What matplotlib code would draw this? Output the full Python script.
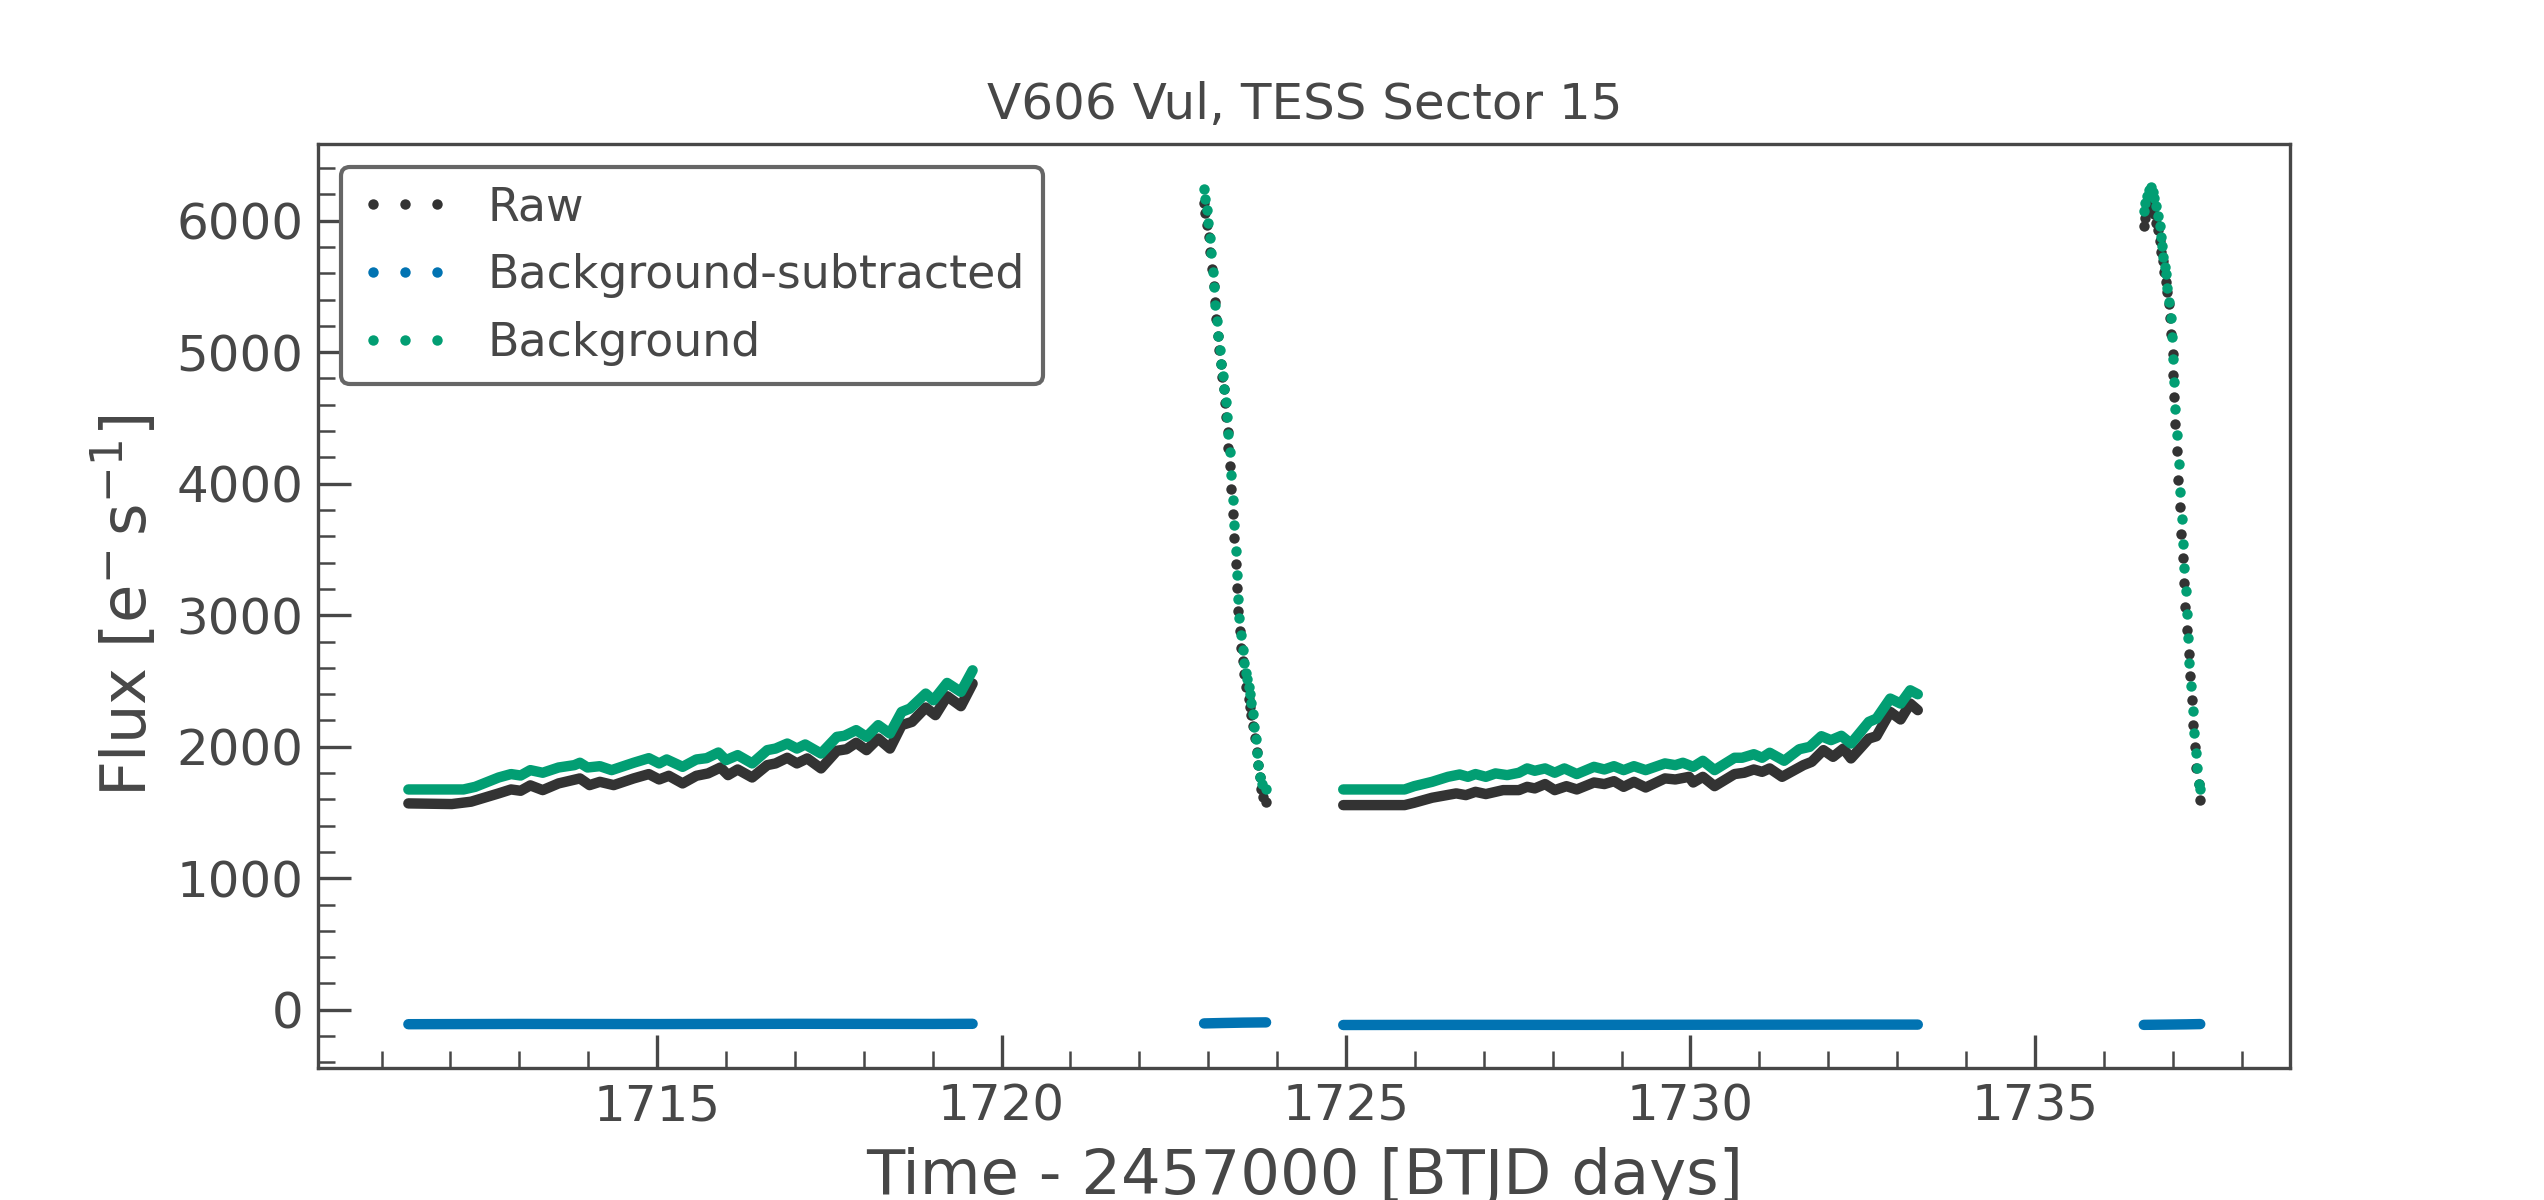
import matplotlib
matplotlib.use('Agg')
import matplotlib.pyplot as plt
import matplotlib.ticker as ticker

# --- data (BTJD days, e-/s) ---
# dense orbit segments (drawn as thick traces)
raw_t1 = [1711.39, 1712.02, 1712.30, 1712.70, 1712.88, 1713.02, 1713.16, 1713.34, 1713.57, 1713.88,
          1714.02, 1714.17, 1714.37, 1714.66, 1714.88, 1715.03, 1715.17, 1715.37, 1715.57, 1715.74,
          1715.92, 1716.03, 1716.17, 1716.38, 1716.60, 1716.72, 1716.89, 1717.03, 1717.18, 1717.38,
          1717.61, 1717.75, 1717.89, 1718.04, 1718.21, 1718.38, 1718.55, 1718.70, 1718.90, 1719.04,
          1719.21, 1719.41, 1719.58]
raw_1 = [1569, 1564, 1582, 1645, 1675, 1665, 1706, 1670, 1721, 1759,
         1708, 1733, 1708, 1759, 1792, 1751, 1779, 1721, 1779, 1797,
         1842, 1784, 1827, 1766, 1860, 1873, 1916, 1873, 1911, 1835,
         1969, 1981, 2030, 1974, 2062, 1986, 2164, 2189, 2298, 2240,
         2384, 2308, 2480]
bkg_t1 = [1711.39, 1712.19, 1712.36, 1712.70, 1712.88, 1713.02, 1713.16, 1713.34, 1713.57, 1713.80,
          1713.88, 1713.99, 1714.17, 1714.34, 1714.66, 1714.88, 1715.03, 1715.14, 1715.37, 1715.57,
          1715.72, 1715.89, 1716.00, 1716.17, 1716.38, 1716.60, 1716.72, 1716.89, 1717.03, 1717.15,
          1717.38, 1717.61, 1717.72, 1717.89, 1718.04, 1718.21, 1718.38, 1718.55, 1718.67, 1718.90,
          1719.01, 1719.21, 1719.41, 1719.58]
bkg_1 = [1675, 1675, 1695, 1766, 1792, 1781, 1822, 1802, 1842, 1860,
         1878, 1842, 1852, 1822, 1878, 1913, 1873, 1903, 1847, 1903,
         1913, 1956, 1898, 1936, 1873, 1974, 1986, 2024, 1986, 2017,
         1948, 2075, 2083, 2126, 2075, 2164, 2100, 2265, 2290, 2404,
         2353, 2485, 2417, 2581]

raw_t3 = [1724.96, 1725.85, 1725.99, 1726.25, 1726.60, 1726.74, 1726.88, 1727.03, 1727.28, 1727.51,
          1727.63, 1727.74, 1727.89, 1728.03, 1728.20, 1728.35, 1728.60, 1728.75, 1728.89, 1729.03,
          1729.18, 1729.35, 1729.63, 1729.78, 1729.98, 1730.04, 1730.18, 1730.35, 1730.64, 1730.78,
          1730.92, 1731.04, 1731.15, 1731.33, 1731.64, 1731.76, 1731.93, 1732.07, 1732.22, 1732.33,
          1732.59, 1732.70, 1732.90, 1733.05, 1733.19, 1733.30]
raw_3 = [1556, 1556, 1574, 1612, 1645, 1632, 1657, 1640, 1670, 1670,
         1695, 1683, 1716, 1670, 1700, 1675, 1728, 1716, 1738, 1695,
         1733, 1690, 1759, 1751, 1771, 1728, 1771, 1700, 1792, 1802,
         1827, 1809, 1835, 1771, 1860, 1885, 1974, 1923, 1986, 1911,
         2062, 2080, 2265, 2207, 2328, 2278]
bkg_t3 = [1724.96, 1725.85, 1725.99, 1726.25, 1726.48, 1726.65, 1726.77, 1726.88, 1727.03, 1727.17,
          1727.34, 1727.51, 1727.63, 1727.74, 1727.89, 1728.03, 1728.17, 1728.35, 1728.60, 1728.75,
          1728.89, 1729.03, 1729.18, 1729.35, 1729.63, 1729.78, 1729.89, 1730.04, 1730.18, 1730.35,
          1730.64, 1730.75, 1730.92, 1731.04, 1731.15, 1731.36, 1731.58, 1731.73, 1731.90, 1732.04,
          1732.19, 1732.33, 1732.59, 1732.70, 1732.90, 1733.05, 1733.19, 1733.30]
bkg_3 = [1675, 1675, 1700, 1733, 1771, 1789, 1771, 1792, 1771, 1797,
         1784, 1802, 1835, 1817, 1835, 1802, 1835, 1792, 1847, 1827,
         1852, 1822, 1852, 1822, 1873, 1860, 1878, 1847, 1893, 1822,
         1916, 1916, 1943, 1916, 1954, 1893, 1981, 1999, 2080, 2050,
         2083, 2024, 2189, 2214, 2366, 2328, 2429, 2399]

# steep segments (individual cadences visible)
raw_t2 = [1722.939, 1722.958, 1722.987, 1723.011, 1723.031, 1723.050, 1723.079, 1723.093, 1723.113, 1723.142,
          1723.156, 1723.181, 1723.200, 1723.229, 1723.248, 1723.263, 1723.282, 1723.292, 1723.316, 1723.330,
          1723.359, 1723.374, 1723.403, 1723.417, 1723.437, 1723.456, 1723.471, 1723.504, 1723.524, 1723.553,
          1723.586, 1723.611, 1723.615, 1723.649, 1723.673, 1723.702, 1723.717, 1723.746, 1723.765, 1723.794,
          1723.843]
raw_2 = [6133, 6058, 5967, 5875, 5760, 5635, 5506, 5384, 5255, 5126,
         5018, 4912, 4814, 4719, 4614, 4506, 4390, 4275, 4133, 3963,
         3773, 3584, 3390, 3204, 3031, 2882, 2750, 2648, 2556, 2455,
         2360, 2299, 2241, 2156, 2065, 1960, 1862, 1773, 1682, 1614,
         1580]
bkg_t2 = [1722.939, 1722.958, 1722.982, 1723.002, 1723.026, 1723.036, 1723.064, 1723.079, 1723.098, 1723.127,
          1723.142, 1723.171, 1723.181, 1723.210, 1723.229, 1723.253, 1723.268, 1723.287, 1723.316, 1723.330,
          1723.359, 1723.374, 1723.403, 1723.417, 1723.432, 1723.451, 1723.475, 1723.504, 1723.524, 1723.553,
          1723.567, 1723.591, 1723.606, 1723.625, 1723.649, 1723.669, 1723.693, 1723.707, 1723.727, 1723.746,
          1723.775, 1723.838]
bkg_2 = [6241, 6163, 6082, 5980, 5868, 5753, 5611, 5495, 5360, 5238,
         5126, 5018, 4912, 4817, 4719, 4618, 4506, 4380, 4238, 4068,
         3878, 3689, 3492, 3302, 3126, 2977, 2848, 2739, 2638, 2563,
         2512, 2451, 2400, 2333, 2248, 2153, 2058, 1953, 1862, 1770,
         1716, 1678]

raw_t4 = [1736.579, 1736.604, 1736.628, 1736.662, 1736.691, 1736.724, 1736.763, 1736.787, 1736.811, 1736.831,
          1736.855, 1736.879, 1736.903, 1736.918, 1736.952, 1736.966, 1736.981, 1737.000, 1737.010, 1737.019,
          1737.039, 1737.058, 1737.077, 1737.111, 1737.126, 1737.145, 1737.164, 1737.184, 1737.213, 1737.232,
          1737.246, 1737.280, 1737.295, 1737.319, 1737.343, 1737.377, 1737.401]
raw_4 = [5961, 6024, 6077, 6135, 6111, 6048, 5980, 5927, 5845, 5762,
         5690, 5612, 5530, 5457, 5370, 5263, 5137, 4983, 4828, 4658,
         4455, 4246, 4028, 3825, 3617, 3433, 3244, 3060, 2890, 2706,
         2537, 2353, 2164, 2000, 1835, 1713, 1592]
bkg_t4 = [1736.579, 1736.604, 1736.628, 1736.662, 1736.686, 1736.710, 1736.734, 1736.758, 1736.787, 1736.821,
          1736.836, 1736.845, 1736.865, 1736.884, 1736.908, 1736.923, 1736.952, 1736.981, 1736.985, 1737.000,
          1737.019, 1737.039, 1737.058, 1737.087, 1737.106, 1737.135, 1737.145, 1737.160, 1737.193, 1737.208,
          1737.222, 1737.242, 1737.271, 1737.295, 1737.314, 1737.334, 1737.353, 1737.387, 1737.401]
bkg_4 = [6077, 6135, 6184, 6232, 6258, 6217, 6174, 6111, 6038, 5961,
         5878, 5806, 5723, 5651, 5593, 5491, 5384, 5263, 5113, 4949,
         4774, 4571, 4367, 4150, 3936, 3733, 3539, 3360, 3181, 3007,
         2827, 2638, 2464, 2275, 2101, 1956, 1835, 1713, 1680]

# background-subtracted flux: nearly flat
sub_t1 = [1711.39, 1713.00, 1715.00, 1717.00, 1719.00, 1719.58]
sub_1 = [-110, -108, -109, -107, -108, -107]
sub_t2 = [1722.94, 1723.20, 1723.50, 1723.84]
sub_2 = [-104, -101, -98, -96]
sub_t3 = [1724.96, 1726.50, 1728.50, 1730.50, 1732.50, 1733.30]
sub_3 = [-116, -115, -115, -114, -113, -113]
sub_t4 = [1736.58, 1736.90, 1737.20, 1737.40]
sub_4 = [-115, -113, -111, -109]

xlim = (1710.08, 1738.71)
ylim = (-443, 6583)

c_raw = '#333333'
c_sub = '#0173b2'
c_bkg = '#029e73'
grey = '#474747'

plt.rcParams.update({
    'font.family': 'DejaVu Sans',
    'text.color': grey,
    'axes.labelcolor': grey,
    'axes.edgecolor': grey,
    'xtick.color': grey,
    'ytick.color': grey,
})

fig, ax = plt.subplots(figsize=(2545 / 300, 4), dpi=300)
fig.subplots_adjust(left=0.125, right=0.9, top=0.88, bottom=0.11)

lw = 2.5
ms = 2.5
line_kw = dict(lw=lw, solid_capstyle='round', solid_joinstyle='round')
dot_kw = dict(ls='none', marker='o', ms=ms, mew=0)

# raw
ax.plot(raw_t1, raw_1, color=c_raw, **line_kw)
ax.plot(raw_t3, raw_3, color=c_raw, **line_kw)
ax.plot(raw_t2, raw_2, color=c_raw, label='Raw', **dot_kw)
ax.plot(raw_t4, raw_4, color=c_raw, **dot_kw)

# background-subtracted
for t, f in [(sub_t1, sub_1), (sub_t2, sub_2), (sub_t3, sub_3), (sub_t4, sub_4)]:
    ax.plot(t, f, color=c_sub, **line_kw)
ax.plot([], [], color=c_sub, label='Background-subtracted', **dot_kw)

# background
ax.plot(bkg_t1, bkg_1, color=c_bkg, **line_kw)
ax.plot(bkg_t3, bkg_3, color=c_bkg, **line_kw)
ax.plot(bkg_t2, bkg_2, color=c_bkg, label='Background', **dot_kw)
ax.plot(bkg_t4, bkg_4, color=c_bkg, **dot_kw)

ax.set_xlim(xlim)
ax.set_ylim(ylim)
ax.xaxis.set_major_locator(ticker.MultipleLocator(5))
ax.xaxis.set_minor_locator(ticker.MultipleLocator(1))
ax.yaxis.set_major_locator(ticker.MultipleLocator(1000))
ax.yaxis.set_minor_locator(ticker.MultipleLocator(200))
ax.tick_params(which='both', direction='in', labelsize=12)
ax.tick_params(which='major', length=8)
ax.tick_params(which='minor', length=4)

ax.set_title('V606 Vul, TESS Sector 15', fontsize=12)
ax.set_xlabel('Time - 2457000 [BTJD days]', fontsize=15)
ax.set_ylabel(r'Flux [$\mathrm{e^{-}\,s^{-1}}$]', fontsize=15)

leg = ax.legend(loc='upper left', numpoints=3, fontsize=11)
leg.get_frame().set_edgecolor('#666666')
leg.get_frame().set_linewidth(1.0)
leg.get_frame().set_alpha(1)

fig.savefig('out.png', dpi=300)
